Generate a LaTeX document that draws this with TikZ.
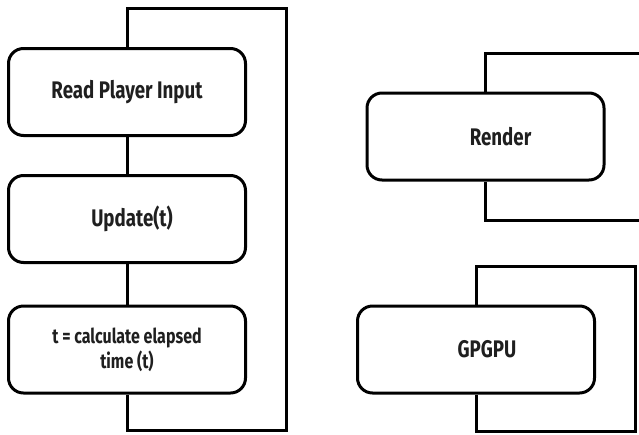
\documentclass[tikz,border=0pt]{standalone}
\usepackage{fontspec}
\setmainfont[FakeStretch=0.78]{Fira Sans}
\begin{document}
\begin{tikzpicture}[x=1pt,y=-1pt,
  stage/.style={draw=black, line width=3pt, rounded corners=15pt,
    minimum width=237pt, minimum height=87pt, inner sep=0pt, align=center,
    font=\bfseries\fontsize{24}{26}\selectfont, text=black!88},
  smalltext/.style={font=\bfseries\fontsize{20.5}{25}\selectfont},
  wire/.style={line width=3pt, line join=miter}]
\useasboundingbox (0,0) rectangle (639,434);
\clip (0,0) rectangle (639,434);

% main game loop
\node[stage] (read) at (127,92) {Read Player Input};
\node[stage] (upd)  at (127,219) {\hspace*{10pt}Update(t)};
\node[stage, smalltext] (calc) at (127,349.5) {t = calculate elapsed\\time (t)};

\coordinate (lt) at (127,8);
\coordinate (rt) at (286.5,8);
\coordinate (rb) at (286.5,430);
\coordinate (lb) at (127,430);

\draw[wire] (read.south) -- (upd.north);
\draw[wire] (upd.south) -- (calc.north);
\draw[wire] (read.north) -- (lt) -- (rt) -- (rb) -- (lb) -- (calc.south);

% render loop (runs off the right edge)
\node[stage] (render) at (485.5,136.5) {\hspace*{30pt}Render};
\coordinate (rlt) at (485.5,53.5);
\coordinate (rrt) at (660,53.5);
\coordinate (rrb) at (660,220);
\coordinate (rlb) at (485.5,220);
\draw[wire] (render.north) -- (rlt) -- (rrt) -- (rrb) -- (rlb) -- (render.south);

% gpgpu loop
\node[stage] (gpgpu) at (476,349.5) {\hspace*{22pt}GPGPU};
\coordinate (glt) at (476,266.5);
\coordinate (grt) at (635,266.5);
\coordinate (grb) at (635,431.5);
\coordinate (glb) at (476,431.5);
\draw[wire] (gpgpu.north) -- (glt) -- (grt) -- (grb) -- (glb) -- (gpgpu.south);
\end{tikzpicture}
\end{document}
